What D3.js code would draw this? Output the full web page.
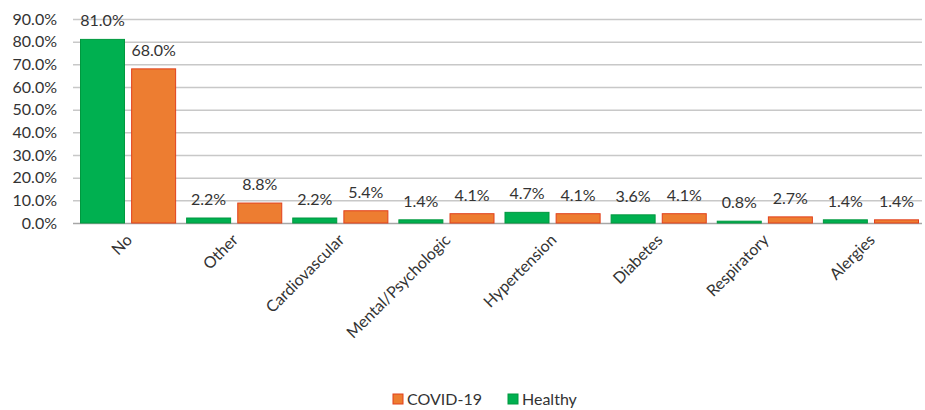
<!DOCTYPE html>
<html>
<head>
<meta charset="utf-8">
<script src="https://cdn.jsdelivr.net/npm/d3@7"></script>
<style>
  body { margin: 0; background: #fff; }
  svg { font-family: Lato, "Open Sans", sans-serif; }
</style>
</head>
<body>
<div id="chart"></div>
<script>
// data
const categories = ["No", "Other", "Cardiovascular", "Mental/Psychologic", "Hypertension", "Diabetes", "Respiratory", "Alergies"];
const healthy = [81.0, 2.2, 2.2, 1.4, 4.7, 3.6, 0.8, 1.4];
const covid = [68.0, 8.8, 5.4, 4.1, 4.1, 4.1, 2.7, 1.4];
const yTicks = [0, 10, 20, 30, 40, 50, 60, 70, 80, 90];

const width = 925, height = 410;
const margin = { top: 19, right: 3, bottom: 187, left: 73 };

const series = [
  { key: "Healthy", values: healthy, fill: "#00b050", stroke: "#00983f" },
  { key: "COVID-19", values: covid, fill: "#ed7d31", stroke: "#e2401c" }
];

const svg = d3.select("#chart").append("svg")
  .attr("width", width)
  .attr("height", height);

const x = d3.scaleBand()
  .domain(categories)
  .range([margin.left, width - margin.right]);

// bars sit a little right of band centre, like the original
const x1 = d3.scaleBand()
  .domain(series.map(s => s.key))
  .range([7, x.bandwidth() - 3])
  .paddingInner(0.12);

const y = d3.scaleLinear()
  .domain([0, 90])
  .range([height - margin.bottom, margin.top]);

// gridlines
svg.append("g")
  .selectAll("line")
  .data(yTicks)
  .join("line")
  .attr("x1", margin.left)
  .attr("x2", width - margin.right)
  .attr("y1", d => y(d) + 0.5)
  .attr("y2", d => y(d) + 0.5)
  .attr("stroke", d => d === 0 ? "#a6a6a6" : "#c8c8c8")
  .attr("stroke-width", 1.5);

// y tick labels
svg.append("g")
  .selectAll("text")
  .data(yTicks)
  .join("text")
  .attr("x", 57)
  .attr("y", d => y(d))
  .attr("dy", "0.35em")
  .attr("text-anchor", "end")
  .attr("font-size", 16)
  .attr("fill", "#333")
  .text(d => d.toFixed(1) + "%");

// bars
const groups = svg.append("g")
  .selectAll("g")
  .data(categories)
  .join("g")
  .attr("transform", d => `translate(${x(d)},0)`);

series.forEach(s => {
  groups.append("rect")
    .attr("x", x1(s.key) + 0.5)
    .attr("y", (d, i) => y(s.values[i]))
    .attr("width", x1.bandwidth() - 1)
    .attr("height", (d, i) => y(0) - y(s.values[i]))
    .attr("fill", s.fill)
    .attr("stroke", s.stroke)
    .attr("stroke-width", 1);

  groups.append("text")
    .attr("x", x1(s.key) + x1.bandwidth() / 2)
    .attr("y", (d, i) => y(s.values[i]) - 13)
    .attr("text-anchor", "middle")
    .attr("font-size", 16)
    .attr("fill", "#333")
    .text((d, i) => s.values[i].toFixed(1) + "%");
});

// x labels, rotated
svg.append("g")
  .selectAll("text")
  .data(categories)
  .join("text")
  .attr("transform", d => `translate(${x(d) + x.bandwidth() / 2 + 7},${y(0) + 18}) rotate(-45)`)
  .attr("text-anchor", "end")
  .attr("font-size", 16)
  .attr("fill", "#333")
  .text(d => d);

// legend
const legendItems = [series[1], series[0]];
const legend = svg.append("g")
  .attr("transform", "translate(393,399)");
let lx = 0;
legendItems.forEach(s => {
  const g = legend.append("g").attr("transform", `translate(${lx},0)`);
  g.append("rect")
    .attr("x", 0).attr("y", -5)
    .attr("width", 10).attr("height", 10)
    .attr("fill", s.fill)
    .attr("stroke", s.stroke);
  g.append("text")
    .attr("x", 14)
    .attr("dy", "0.35em")
    .attr("font-size", 16)
    .attr("fill", "#333")
    .text(s.key);
  lx += 115;
});
</script>
</body>
</html>
